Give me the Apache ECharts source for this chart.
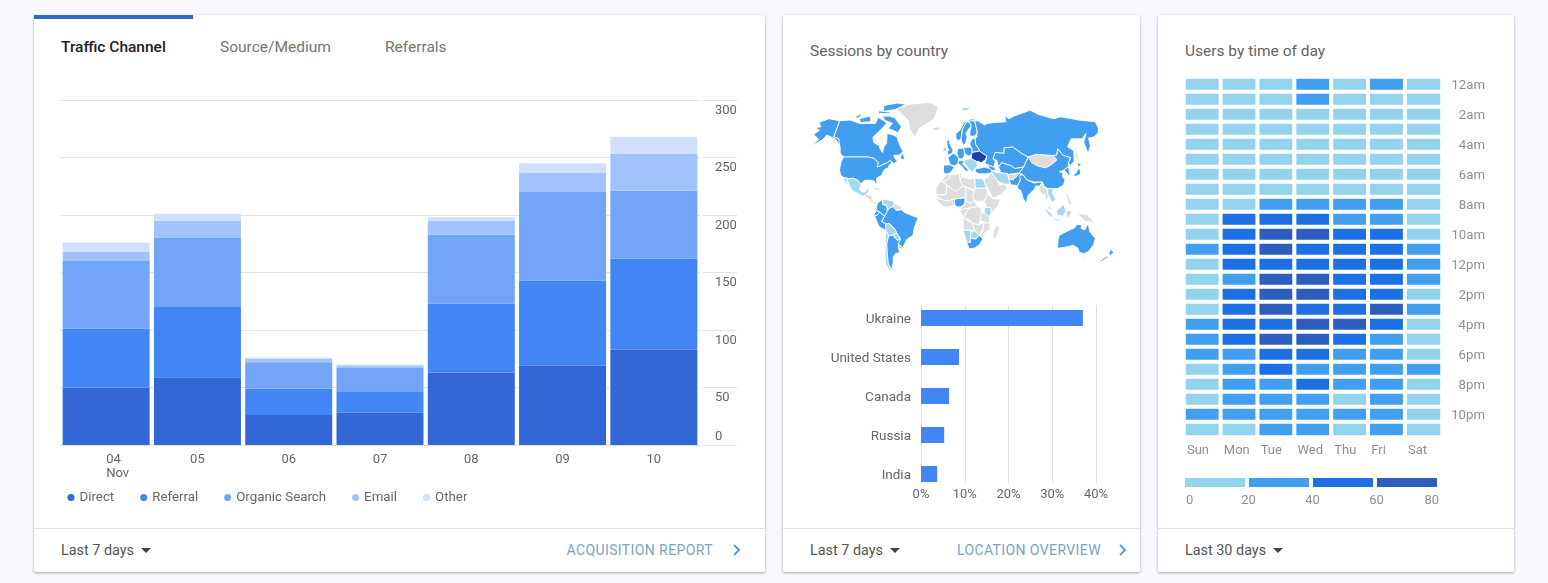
<!DOCTYPE html>
<html>
<head>
<meta charset="utf-8">
<title>Dashboard</title>
<script src="https://cdn.jsdelivr.net/npm/echarts@6/dist/echarts.min.js"></script>
<style>
  html, body { margin: 0; padding: 0; background: #f8f9fe; }
  body { width: 1548px; height: 583px; overflow: hidden; position: relative; font-family: Roboto, sans-serif; }
  .card { position: absolute; top: 15px; height: 557px; background: #fff; border-radius: 2px; box-shadow: 0 1px 3px rgba(0,0,0,.32); }
  .sep { position: absolute; left: 0; right: 0; top: 513px; height: 1px; background: #e3e3e3; }
  .txt { position: absolute; line-height: 20px; white-space: nowrap; }
  .tab { font-size: 15.5px; color: #757575; top: 22px; }
  .title { font-size: 15.5px; color: #5f6368; top: 26px; }
  .range { font-size: 14.4px; color: #555; top: 526px; }
  .range:after { content: ""; display: inline-block; margin-left: 7px; vertical-align: 2px;
    border-left: 5px solid transparent; border-right: 5px solid transparent; border-top: 5px solid #444; }
  .link { font-size: 14px; color: #7ba2c9; top: 525px; letter-spacing: .4px; }
  .chev { position: absolute; top: 529px; }
  #chart { position: absolute; left: 0; top: 0; width: 1548px; height: 583px; }
</style>
</head>
<body>
<div class="card" style="left:34px;width:731px">
  <div style="position:absolute;left:0;top:0;width:159px;height:4px;background:#2a6cc6"></div>
  <div class="txt tab" style="left:27px;color:#212121;font-weight:500">Traffic Channel</div>
  <div class="txt tab" style="left:186px">Source/Medium</div>
  <div class="txt tab" style="left:351px">Referrals</div>
  <div class="sep"></div>
  <div class="txt range" style="left:27px">Last 7 days</div>
  <div class="txt link" style="right:52px">ACQUISITION REPORT</div>
  <svg class="chev" style="left:698px" width="12" height="12"><path d="M2 1l5 5-5 5" fill="none" stroke="#5f9bd1" stroke-width="2"/></svg>
</div>
<div class="card" style="left:783px;width:357px">
  <div class="txt title" style="left:27px">Sessions by country</div>
  <div class="sep"></div>
  <div class="txt range" style="left:27px">Last 7 days</div>
  <div class="txt link" style="right:39px">LOCATION OVERVIEW</div>
  <svg class="chev" style="left:335px" width="12" height="12"><path d="M2 1l5 5-5 5" fill="none" stroke="#5f9bd1" stroke-width="2"/></svg>
</div>
<div class="card" style="left:1158px;width:356px">
  <div class="txt title" style="left:27px">Users by time of day</div>
  <div class="sep"></div>
  <div class="txt range" style="left:27px">Last 30 days</div>
</div>
<div id="chart"></div>

<script>
// traffic channel, stacked per day
var days = ['04\nNov', '05', '06', '07', '08', '09', '10'];
var direct = [50, 59, 26, 28, 63, 69, 83];
var referral = [51, 61, 23, 18, 60, 74, 79];
var organic = [59, 60, 23, 21, 60, 77, 59];
var email = [8, 15, 3, 2, 12, 17, 32];
var other = [8, 6, 1, 1, 3, 8, 15];

// sessions by country, percent
var countries = ['Ukraine', 'United States', 'Canada', 'Russia', 'India'];
var shares = [37, 8.7, 6.4, 5.3, 3.7];

// users by time of day, rows are hours. values are the middle of the colour bucket they show
var weekDays = ['Sun', 'Mon', 'Tue', 'Wed', 'Thu', 'Fri', 'Sat'];
var hours = ['12am', '', '2am', '', '4am', '', '6am', '', '8am', '', '10am', '', '12pm', '', '2pm', '', '4pm', '', '6pm', '', '8pm', '', '10pm', ''];
var users = [
  [10, 10, 10, 30, 10, 30, 10],
  [10, 10, 10, 30, 10, 10, 10],
  [10, 10, 10, 10, 10, 10, 10],
  [10, 10, 10, 10, 10, 10, 10],
  [10, 10, 10, 10, 10, 10, 10],
  [10, 10, 10, 10, 10, 10, 10],
  [10, 10, 10, 10, 10, 10, 10],
  [10, 10, 10, 10, 10, 10, 10],
  [10, 10, 30, 30, 30, 30, 10],
  [10, 50, 50, 50, 30, 30, 10],
  [10, 50, 70, 70, 50, 50, 10],
  [30, 50, 70, 50, 50, 50, 30],
  [10, 50, 50, 50, 50, 50, 30],
  [10, 30, 70, 70, 50, 50, 30],
  [10, 50, 70, 70, 50, 50, 10],
  [10, 50, 70, 50, 50, 70, 30],
  [30, 50, 50, 70, 70, 50, 10],
  [30, 50, 70, 70, 50, 30, 10],
  [30, 30, 50, 50, 30, 30, 10],
  [10, 30, 50, 30, 30, 30, 30],
  [10, 30, 30, 50, 30, 30, 10],
  [10, 30, 30, 30, 10, 30, 10],
  [30, 30, 30, 30, 30, 30, 10],
  [10, 10, 30, 30, 10, 30, 10]
];
var heatSteps = [20, 20, 20, 20];

// map colour levels
var topCountries = ['Ukraine'];
var midCountries = ['Canada', 'United States', 'Colombia', 'Ecuador', 'Peru', 'Brazil', 'Argentina', 'Norway', 'Sweden', 'Finland',
  'United Kingdom', 'France', 'Spain', 'Germany', 'Poland', 'Italy', 'Belarus', 'Turkey', 'Russia', 'Kazakhstan', 'Central Asia', 'China',
  'Korea', 'Japan', 'Pakistan', 'India', 'Caucasus', 'Nigeria', 'South Africa', 'Australia', 'New Zealand'];
var lowCountries = ['Mexico', 'Venezuela', 'Bolivia', 'Paraguay', 'Chile', 'Svalbard', 'Iran', 'Vietnam', 'Malaysia', 'Indonesia', 'Egypt', 'Kenya',
  'Namibia', 'Botswana', 'Balkans', 'Ireland'];

// rough outlines, lon/lat
var worldShapes = {
  'Canada': [
    [[-141,69.6],[-128,70],[-115,68],[-108,68],[-95,68],[-94,72],[-85,69.5],[-81,68],[-87,64],[-94,60],[-92,57],[-85,55.3],[-82,52.9],[-79.5,51.5],[-79,54.5],[-76.5,56.5],[-78,62],[-72,61.5],[-65,60],[-64,58.5],[-60,55],[-56,52],[-60,50],[-66,50],[-65,48.5],[-61,46],[-66,44],[-67,45.5],[-70,46.5],[-72,45],[-76,44],[-79,43],[-83,42],[-82.5,45],[-88,48],[-95,49],[-123,49],[-128,51],[-130,54.5],[-135,59],[-141,60]],
    [[-80,73],[-72,71.5],[-62,66],[-65,62.5],[-72,64],[-78,65],[-74,68],[-85,70],[-88,73]],
    [[-117,71],[-105,73],[-101,69],[-114,68.5]],
    [[-90,76.5],[-75,78],[-62,82],[-75,83],[-92,81]],
    [[-125,72],[-118,74.5],[-116,73],[-120,71.5]],
    [[-96,75],[-80,75],[-80,76],[-96,77]],
    [[-59,48],[-53,47],[-56,51.5]]
  ],
  'United States': [
    [[-123,49],[-95,49],[-88,48],[-82.5,45],[-83,42],[-79,43],[-76,44],[-72,45],[-70,46.5],[-67,45.5],[-70,43],[-70,41.5],[-74,40.5],[-76,37],[-75.5,35.3],[-81,32],[-80,26],[-81,25],[-83,29],[-89,30],[-94,29.5],[-97,26],[-101,29.7],[-106.5,31.8],[-111,31.3],[-117,32.5],[-120.5,34.5],[-124,40],[-124.5,46]],
    [[-141,69.6],[-156,71],[-166,68.5],[-161,66],[-168,65.5],[-161,64],[-166,61.5],[-158,58.7],[-164,55],[-153,58.5],[-150,61],[-144,60],[-137,58.5],[-131,55],[-134,59],[-141,60]]
  ],
  'Mexico': [[[-117,32.5],[-111,31.3],[-106.5,31.8],[-101,29.7],[-97,26],[-97.5,21],[-95,18.5],[-91,18.5],[-90,21.3],[-87,21.5],[-88,18],[-92,14.5],[-96,15.8],[-105,19.5],[-109,25],[-113,31],[-110,23],[-115,29]]],
  'Central America': [[[-92,14.5],[-88,18],[-88.5,16],[-83.5,15],[-83.5,11],[-80,9],[-77.5,8],[-80,7.5],[-85,10],[-88,13]]],
  'Cuba': [[[-85,22],[-80,23],[-74,20],[-78,20]]],
  'Colombia': [[[-77.5,8],[-72,12],[-72,7],[-67.5,6],[-67,1],[-70,-4],[-75,0],[-79,1.5]]],
  'Venezuela': [[[-72,12],[-62,10.5],[-60,8],[-61,5],[-64,4],[-67,1],[-67.5,6],[-72,7]]],
  'Guyana': [[[-60,8],[-52,5],[-52,2],[-58,1.5],[-61,5]]],
  'Ecuador': [[[-79,1.5],[-75,0],[-78,-3.5],[-81,-2.5]]],
  'Peru': [[[-81,-2.5],[-78,-3.5],[-75,0],[-70,-4],[-73,-9],[-69,-11],[-69.5,-17.5],[-76,-14]]],
  'Brazil': [[[-64,4],[-61,5],[-58,1.5],[-52,2],[-50,0],[-44,-2.5],[-35,-5.5],[-39,-14],[-41,-22],[-48,-26],[-53,-33.7],[-57.5,-30],[-54.5,-25.5],[-58,-20],[-60,-16],[-65,-11],[-69,-11],[-73,-9],[-70,-4],[-67,1]]],
  'Bolivia': [[[-69,-11],[-65,-11],[-60,-16],[-58,-20],[-62.5,-22],[-67,-22.5],[-69.5,-17.5]]],
  'Paraguay': [[[-62.5,-22],[-58,-20],[-54.5,-25.5],[-58,-27]]],
  'Uruguay': [[[-58,-34],[-57.5,-30],[-53,-33.7],[-55,-35]]],
  'Argentina': [[[-67,-22.5],[-62.5,-22],[-58,-27],[-54.5,-25.5],[-57.5,-30],[-58,-34],[-57,-38],[-62,-39],[-65,-42],[-66,-47],[-69,-52],[-65,-55],[-70,-52.5],[-72,-48],[-71,-38],[-70,-30]]],
  'Chile': [[[-69.5,-17.5],[-67,-22.5],[-70,-30],[-71,-38],[-72,-48],[-70,-52.5],[-72,-54],[-75,-48],[-73,-37],[-71,-28]]],
  'Greenland': [[[-73,78],[-60,82],[-30,83.5],[-18,80],[-22,71],[-40,65],[-44,60],[-52,65],[-55,70]]],
  'Iceland': [[[-24,65.5],[-14,66],[-14,64.5],[-22,63.5]]],
  'Svalbard': [[[12,79],[25,80],[22,77.5],[15,77]]],
  'Norway': [[[5,62],[5,59],[8,58],[11,59],[12,61],[13,64.5],[18,68.5],[25,69.5],[31,70],[26,71],[15,68.5],[10,64]]],
  'Sweden': [[[11,59],[13,55.5],[16,56],[18.5,60],[17,62],[22,65.5],[24,66],[23.5,68],[20,69],[18,68.5],[13,64.5],[12,61]]],
  'Finland': [[[23.5,68],[24,66],[22,63],[21.5,60.5],[28,60.5],[31,63],[29,69.5],[25,69.5],[20,69]]],
  'United Kingdom': [[[-5,50],[1,51],[1.5,53],[-2,56],[-3,58.5],[-6,58],[-5,54],[-3,53],[-5,52]]],
  'Ireland': [[[-10,52],[-6,52],[-6,55],[-10,54]]],
  'France': [[[-4.5,48.5],[2,51],[8,49],[7,44],[3,43],[-1.5,43.5]]],
  'Spain': [[[-9,43.5],[-1.5,43.5],[3,42],[0,39],[-2,37],[-5.5,36],[-9,37]]],
  'Germany': [[[6,51],[7,53.5],[14,54],[15,51],[13,48],[8,47.5]]],
  'Poland': [[[14,54],[19,54.5],[23.5,54],[24,50.5],[19,49.5],[15,51]]],
  'Italy': [[[7,44],[8,46.5],[13.5,46.5],[12.5,44],[18.5,40],[16,38],[12,42],[9,44]]],
  'Balkans': [[[13.5,46.5],[22,48],[28,46],[29,43],[26,41],[23,38],[20,40],[14,45]]],
  'Belarus': [[[21,56],[24,59],[28,59.5],[28,56],[32,53],[32,52.3],[23.5,51.5],[23.5,54]]],
  'Ukraine': [[[23.5,51.5],[32,52.3],[40,49.5],[38,47],[33,45],[30,46],[28,46],[22,48]]],
  'Turkey': [[[26,41],[29,41],[36,42],[42,41],[44.5,39.5],[44,37],[36,36.2],[30,36.2],[26,38]]],
  'Russia': [
    [[28,59.5],[30,60],[31,63],[29,69.5],[33,69.5],[41,67],[44,68],[54,68.5],[68,69],[68,73],[73,71],[80,73],[104,77.5],[113,74],[130,71],[140,72.5],[160,70],[180,69],[180,65],[177,62.5],[170,60],[163,59.5],[162,55],[156.5,51],[155.5,57],[162,62],[155,59],[142,59],[135,54.5],[141,52.5],[138,46],[132,43],[131,45],[135,48.5],[127,50],[123,53.5],[120,50],[116,49.8],[107,50],[98,50.5],[87,49],[80,51],[71,54.5],[61,54],[60,51],[50,51.5],[47,48],[49,46],[47,42],[40,43.5],[37,45],[39,47],[40,49.5],[32,52.3],[32,53],[28,56]],
    [[142,54],[143.5,50],[143,46],[142,48]]
  ],
  'Kazakhstan': [[[47,48],[50,51.5],[60,51],[61,54],[71,54.5],[80,51],[87,49],[80,42],[70,41],[66,43],[56,45],[52,42],[51,46.5]]],
  'Central Asia': [[[52,42],[56,45],[66,43],[70,41],[80,42],[74,37],[62,35.5],[54,37.5]]],
  'Mongolia': [[[87,49],[98,50.5],[107,50],[116,49.8],[119,47],[111,43.5],[104,41.5],[96,42.7],[90,45]]],
  'China': [[[74,37],[80,42],[87,49],[90,45],[96,42.7],[104,41.5],[111,43.5],[119,47],[116,49.8],[120,50],[123,53.5],[127,50],[135,48.5],[131,45],[130,42.5],[124,40],[121,39],[118,38.5],[122,37],[120,34],[122,30],[119,25],[113,22],[108,21.5],[102,21.5],[98,24],[97,28],[88,28],[81,30],[78,35]]],
  'Korea': [[[124,40],[130,42.5],[129,36],[126.5,34.5],[126,37]]],
  'Japan': [[[131,34],[136,34],[141,36],[142,40],[140,41],[136,37]], [[140,42],[145,43.5],[142,45.5]]],
  'Iran': [[[44.5,39.5],[49,37.5],[54,37],[61,36.5],[61.5,31],[63,26],[57,26],[51,28],[48.5,30],[46,34],[44,37]]],
  'Afghanistan': [[[61,36.5],[62,35.5],[74,37],[71,34],[66,30],[61.5,31]]],
  'Pakistan': [[[61.5,31],[66,30],[71,34],[74,37],[77,34],[74,30],[70,24],[66,25],[62,25],[63,26]]],
  'India': [[[74,35],[78,35],[81,30],[88,27],[97,28],[94,24],[89,24],[88,21.5],[80,15],[78,8],[75,12],[73,20],[70,21],[70,24],[74,30]]],
  'Myanmar': [[[92,21],[94,24],[97,28],[98,24],[101,21],[101,17],[103,13],[100,13],[99,8],[98,10],[98,16],[95,16]]],
  'Vietnam': [[[102,21.5],[108,21.5],[106,18],[109,12],[105,9],[103,12],[103,13],[101,17],[101,21]]],
  'Malaysia': [[[100,6.5],[103,4],[104,1.5],[101,3]]],
  'Indonesia': [[[95,5.5],[104,-2],[106,-6],[101,-3]], [[109,1],[117,7],[119,1],[116,-4],[110,-3]], [[106,-6],[114,-7],[114,-8.5],[106,-7.5]], [[120,1],[125,1],[122,-5],[120,-5]]],
  'New Guinea': [[[131,-1],[141,-2.5],[150,-10],[141,-9],[138,-8]]],
  'Philippines': [[[120,18],[122,18],[124,12],[126,7],[122,7]]],
  'Australia': [[[114,-22],[122,-18],[129,-15],[131,-12],[136,-12],[136,-15.5],[140,-17],[142.5,-11],[146,-19],[153,-25],[153,-31],[150,-37],[146,-39],[140,-38],[137,-34],[131,-31.5],[124,-33],[115,-34.5],[113.5,-26]]],
  'Tasmania': [[[145,-41],[148,-41],[147,-43.5]]],
  'New Zealand': [[[173,-35],[178,-38],[175,-41],[173,-39]], [[172,-41],[174,-42],[168,-46.5],[167,-45]]],
  'Arabia': [[[35,28],[36,32],[39,32],[42,37],[44,37],[46,34],[48.5,30],[51,25],[56,26],[59.5,22.5],[52,16],[43,12.5],[39,21]]],
  'Caucasus': [[[40,43.5],[47,42],[49,40],[44.5,39.5],[42,41]]],
  'Morocco': [[[-13,28],[-10,30],[-6,35.8],[-2,35],[-2,32],[-9,28]]],
  'Mauritania': [[[-17,21],[-13,28],[-9,28],[-5,25],[-6,16],[-16,16]]],
  'Algeria': [[[-2,35],[9,37],[9,30],[12,24],[4,19],[-5,25],[-9,28],[-2,32]]],
  'Tunisia': [[[9,37],[11,37],[11,32],[9,30]]],
  'Libya': [[[11,33],[20,31],[25,32],[25,20],[24,19.5],[15,23],[12,24],[9,30]]],
  'Egypt': [[[25,32],[34,31],[37,22],[25,22]]],
  'Sudan': [[[25,22],[37,22],[38,17],[34,10],[24,10],[22,15]]],
  'Mali': [[[-16,16],[-6,16],[-5,25],[4,19],[12,24],[15,23],[15,13],[3,12],[-5,10],[-12,12]]],
  'Chad': [[[15,23],[24,19.5],[22,15],[24,10],[19,8],[15,10],[15,13]]],
  'Nigeria': [[[3,12],[14,13],[13.5,7],[9,4.5],[5,5],[3,6.5]]],
  'Ghana': [[[-16,12],[-12,12],[-5,10],[3,12],[3,6.5],[-3,5],[-8,4.5],[-13,8]]],
  'Cameroon': [[[9,4.5],[13.5,7],[15,10],[19,8],[24,10],[27,5],[18,3.5],[10,2]]],
  'Ethiopia': [[[34,10],[38,17],[43,12],[51,12],[48,5],[41,-1],[41,4],[36,4.5]]],
  'Kenya': [[[34,4.5],[41,4],[41,-1],[39,-4.5],[34,-1]]],
  'Tanzania': [[[30,-1],[34,-1],[39,-4.5],[40,-10.5],[34,-10],[30,-8]]],
  'Congo': [[[12,-6],[18,3.5],[27,5],[31,3],[30,-8],[28,-12],[22,-11],[18,-7],[13,-6]]],
  'Gabon': [[[9,1],[10,2],[18,3.5],[12,-5]]],
  'Angola': [[[12,-5.5],[22,-11],[24,-17.5],[12,-17]]],
  'Zambia': [[[22,-11],[28,-12],[34,-10],[33,-16],[29,-22],[25,-18],[24,-17.5]]],
  'Mozambique': [[[34,-10],[40,-10.5],[40,-16],[35,-20],[33,-26],[31,-22],[33,-16]]],
  'Namibia': [[[12,-17],[21,-18],[20,-22],[20,-29],[16,-28.5]]],
  'Botswana': [[[21,-18],[25,-18],[29,-22],[26,-25.5],[20,-25],[20,-22]]],
  'South Africa': [[[16,-28.5],[20,-29],[20,-25],[26,-25.5],[29,-22],[32,-24],[33,-26],[30,-31],[25,-34],[19,-35]]],
  'Madagascar': [[[44,-17],[49,-12],[50,-16],[47,-25],[44,-25]]]
};

// the map's projection: y from a lat table, x pulled in toward the poles
var latTable = [[-90, 284], [-55, 272], [-35, 249], [0, 212], [25, 185], [40, 170], [49, 157], [60, 137], [70, 120], [83, 103], [90, 96]];

function latToY(lat) {
  for (var i = 1; i < latTable.length; i++) {
    if (lat <= latTable[i][0]) {
      var a = latTable[i - 1], b = latTable[i];
      return a[1] + (b[1] - a[1]) * (lat - a[0]) / (b[0] - a[0]);
    }
  }
  return latTable[latTable.length - 1][1];
}
function yToLat(y) {
  for (var i = 1; i < latTable.length; i++) {
    if (y >= latTable[i][1]) {
      var a = latTable[i - 1], b = latTable[i];
      return a[0] + (b[0] - a[0]) * (y - a[1]) / (b[1] - a[1]);
    }
  }
  return 90;
}
function lonSqueeze(lat) {
  return 1 - 0.15 * Math.pow(lat / 65, 2);
}
var mapProjection = {
  project: function (p) { return [951.7 + 0.96 * p[0] * lonSqueeze(p[1]), latToY(p[1])]; },
  unproject: function (p) { var lat = yToLat(p[1]); return [(p[0] - 951.7) / 0.96 / lonSqueeze(lat), lat]; }
};

var features = [];
var mapBox = [Infinity, Infinity, -Infinity, -Infinity];
Object.keys(worldShapes).forEach(function (name) {
  features.push({
    type: 'Feature',
    properties: { name: name },
    geometry: { type: 'MultiPolygon', coordinates: worldShapes[name].map(function (ring) {
      ring.forEach(function (p) {
        var q = mapProjection.project(p);
        mapBox[0] = Math.min(mapBox[0], q[0]);
        mapBox[1] = Math.min(mapBox[1], q[1]);
        mapBox[2] = Math.max(mapBox[2], q[0]);
        mapBox[3] = Math.max(mapBox[3], q[1]);
      });
      return [ring];
    }) }
  });
});
echarts.registerMap('world', { type: 'FeatureCollection', features: features });

var mapData = [];
topCountries.forEach(function (n) { mapData.push({ name: n, value: 3 }); });
midCountries.forEach(function (n) { mapData.push({ name: n, value: 2 }); });
lowCountries.forEach(function (n) { mapData.push({ name: n, value: 1 }); });

var heatData = [];
users.forEach(function (row, r) {
  row.forEach(function (v, c) { heatData.push([c, r, v]); });
});

var heatColors = ['#93d3ec', '#429ff0', '#1c70e3', '#2d5dbd'];
var labelFont = 'Roboto, sans-serif';

function stackBar(name, values, color) {
  return { name: name, type: 'bar', stack: 'traffic', xAxisIndex: 0, yAxisIndex: 0, barWidth: 87, data: values, itemStyle: { color: color }, silent: true };
}

var series = [
  stackBar('Direct', direct, '#3367d6'),
  stackBar('Referral', referral, '#4285f4'),
  stackBar('Organic Search', organic, '#72a4f7'),
  stackBar('Email', email, '#a1c2fa'),
  stackBar('Other', other, '#d0e0fc'),
  { type: 'bar', xAxisIndex: 2, yAxisIndex: 2, barWidth: 16, data: shares, itemStyle: { color: '#4285f4' }, silent: true },
  { type: 'heatmap', xAxisIndex: 3, yAxisIndex: 3, data: heatData, itemStyle: { borderColor: '#fff', borderWidth: 4 }, silent: true },
  {
    type: 'map', map: 'world', projection: mapProjection, roam: false, silent: true, data: mapData, showLegendSymbol: false,
    left: mapBox[0], top: mapBox[1], width: mapBox[2] - mapBox[0], height: mapBox[3] - mapBox[1],
    label: { show: false },
    itemStyle: { areaColor: '#dedede', borderColor: '#fff', borderWidth: 0.9 }
  }
];
heatSteps.forEach(function (step, i) {
  series.push({
    type: 'bar', stack: 'key', xAxisIndex: 4, yAxisIndex: 4, barWidth: 13, data: [step], silent: true,
    itemStyle: { color: heatColors[i], borderColor: '#fff', borderWidth: 2 }
  });
});

var option = {
  animation: false,
  textStyle: { fontFamily: labelFont },
  legend: {
    left: 62.5, top: 486, icon: 'circle', itemWidth: 7, itemHeight: 7, itemGap: 26, selectedMode: false,
    data: ['Direct', 'Referral', 'Organic Search', 'Email', 'Other'],
    textStyle: { color: '#666', fontSize: 13.3, fontFamily: labelFont }
  },
  grid: [
    { left: 60.5, top: 100, width: 639, height: 345 }, // traffic
    { left: 921, top: 305, width: 175, height: 178 },  // country grid lines
    { left: 921, top: 298.5, width: 175, height: 195 },// country bars
    { left: 1184, top: 77, width: 258, height: 360 },  // heatmap
    { left: 1183, top: 476, width: 256, height: 13 }   // heat key
  ],
  xAxis: [
    {
      gridIndex: 0, type: 'category', data: days,
      axisLine: { lineStyle: { color: '#e0e0e0' } },
      axisTick: { alignWithLabel: true, length: 5, lineStyle: { color: '#e6e6e6' } },
      axisLabel: { color: '#666', fontSize: 13, lineHeight: 14, margin: 8, alignMinLabel: 'left', interval: 0 }
    },
    {
      gridIndex: 1, type: 'value', min: 0, max: 40, interval: 10,
      axisLine: { show: false }, axisTick: { show: false },
      splitLine: { lineStyle: { color: '#e2e2e2' } },
      axisLabel: { color: '#666', fontSize: 13, margin: 5, formatter: '{value}%' }
    },
    { gridIndex: 2, type: 'value', min: 0, max: 40, show: false },
    {
      gridIndex: 3, type: 'category', data: weekDays, splitArea: { show: false },
      axisLine: { show: false }, axisTick: { show: false },
      axisLabel: { formatter: '{d|{value}}', margin: 7, interval: 0, rich: { d: { color: '#8f8f8f', fontSize: 13, width: 31, align: 'left' } } }
    },
    {
      gridIndex: 4, type: 'value', min: 0, max: 80, interval: 20,
      axisLine: { show: false }, axisTick: { show: false }, splitLine: { show: false },
      axisLabel: { color: '#8f8f8f', fontSize: 13, margin: 5, alignMinLabel: 'left', alignMaxLabel: 'right', padding: [0, 0, 0, 3] }
    }
  ],
  yAxis: [
    {
      gridIndex: 0, type: 'value', position: 'right', offset: 3.5, min: 0, max: 300, interval: 50,
      axisLine: { show: false },
      axisTick: { show: true, length: 34, lineStyle: { color: '#e3e3e3' } },
      splitLine: { lineStyle: { color: '#e3e3e3' } },
      axisLabel: { color: '#666', fontSize: 13, margin: 12, align: 'left', verticalAlign: 'top', verticalAlignMinLabel: 'bottom', padding: [4, 0, 2, 0] }
    },
    { gridIndex: 1, type: 'category', show: false, data: countries },
    {
      gridIndex: 2, type: 'category', data: countries, inverse: true,
      axisLine: { show: false },
      axisTick: { length: 8, alignWithLabel: true, lineStyle: { color: '#e6e6e6' } },
      axisLabel: { formatter: '{c|{value}}', margin: 10, interval: 0, rich: { c: { color: '#666', fontSize: 13.5, padding: [4, 0, 0, 0] } } }
    },
    {
      gridIndex: 3, type: 'category', data: hours, inverse: true, position: 'right', splitArea: { show: false },
      axisLine: { show: false }, axisTick: { show: false },
      axisLabel: { formatter: '{h|{value}}', margin: 43, align: 'right', interval: 0, rich: { h: { color: '#8f8f8f', fontSize: 13.2, padding: [2, 0, 0, 0] } } }
    },
    { gridIndex: 4, type: 'category', show: false, data: ['key'] }
  ],
  visualMap: [
    {
      show: false, type: 'piecewise', seriesIndex: 6, dimension: 2,
      pieces: [
        { min: 0, max: 20, color: heatColors[0] },
        { min: 20, max: 40, color: heatColors[1] },
        { min: 40, max: 60, color: heatColors[2] },
        { min: 60, max: 80, color: heatColors[3] }
      ]
    },
    {
      show: false, type: 'piecewise', seriesIndex: 7,
      pieces: [
        { value: 1, color: '#a3d8ef' },
        { value: 2, color: '#429ff0' },
        { value: 3, color: '#1f3fa5' }
      ]
    }
  ],
  series: series
};

var chart = echarts.init(document.getElementById('chart'), null, { renderer: 'canvas' });
chart.setOption(option);
</script>
</body>
</html>
